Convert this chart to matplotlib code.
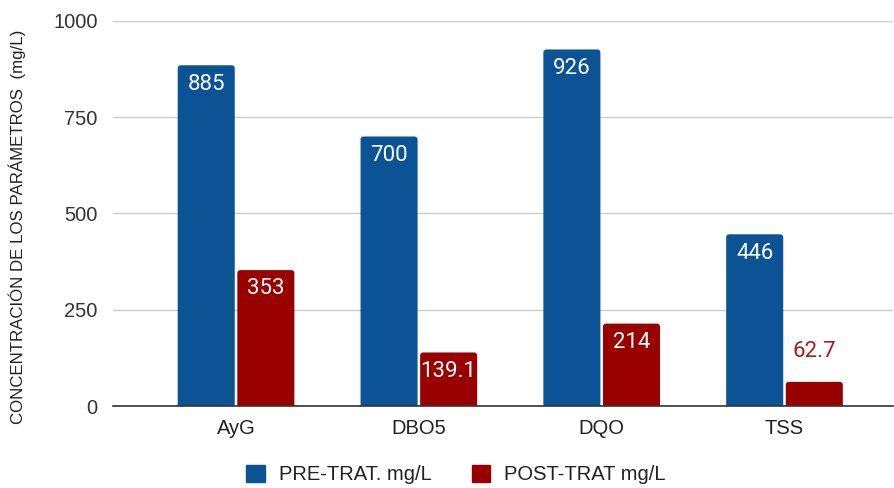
import numpy as np
import matplotlib.pyplot as plt
from matplotlib.patches import Patch, FancyBboxPatch

categories = ["AyG", "DBO5", "DQO", "TSS"]
pre_trat = [885, 700, 926, 446]
post_trat = [353, 139.1, 214, 62.7]
pre_labels = ["885", "700", "926", "446"]
post_labels = ["353", "139.1", "214", "62.7"]

blue = '#0b5394'
red = '#990000'

plt.rcParams['font.family'] = ['Liberation Sans', 'DejaVu Sans']

fig = plt.figure(figsize=(8.94, 4.88), dpi=100)
ax = fig.add_axes([0.1264, 0.168, 0.873, 0.789])

x = np.arange(len(categories))
w = 0.312
off = 0.163
xlim = (-0.673, 3.596)
ylim = (0, 1000)
ax.set_xlim(*xlim)
ax.set_ylim(*ylim)

# aspect so the corner rounding comes out round in pixels
bbox = ax.get_position()
px_w = bbox.width * fig.get_figwidth() * fig.dpi
px_h = bbox.height * fig.get_figheight() * fig.dpi
aspect = ((ylim[1] - ylim[0]) / px_h) / ((xlim[1] - xlim[0]) / px_w)
r = 3 * (xlim[1] - xlim[0]) / px_w


def rounded_bars(xs, heights, color):
    rects = []
    for xc, h in zip(xs, heights):
        p = FancyBboxPatch((xc - w / 2, -20), w, h + 20,
                           boxstyle=f"round,pad=0,rounding_size={r}",
                           mutation_aspect=aspect, facecolor=color,
                           edgecolor='none', zorder=3)
        ax.add_patch(p)
        rects.append((xc, h))
    return rects


b1 = rounded_bars(x - off, pre_trat, blue)
b2 = rounded_bars(x + off, post_trat, red)

# labels sit inside the bar top, or above it when the bar is too short
for bars, labels in ((b1, pre_labels), (b2, post_labels)):
    for (cx, h), lab in zip(bars, labels):
        if h > 100:
            ax.annotate(lab, (cx, h), xytext=(0, -6), textcoords='offset points',
                        ha='center', va='top', color='white', fontsize=16,
                        family='Roboto', zorder=4)
        else:
            ax.annotate(lab, (cx, h), xytext=(0, 14), textcoords='offset points',
                        ha='center', va='bottom', color='#a61c1c', fontsize=16,
                        family='Roboto', zorder=4)

ax.set_yticks([0, 250, 500, 750, 1000])
ax.set_xticks(x)
ax.set_xticklabels(categories)
ax.tick_params(axis='both', length=0, labelsize=14.5, colors='#222222')
ax.tick_params(axis='x', pad=9)
ax.tick_params(axis='y', pad=11)
for lab in ax.get_yticklabels():
    lab.set_color('#333333')

ax.grid(axis='y', color='#cccccc', linewidth=1, zorder=0)
for s in ['top', 'right', 'left']:
    ax.spines[s].set_visible(False)
ax.spines['bottom'].set_color('#333333')
ax.spines['bottom'].set_linewidth(1.2)
ax.spines['bottom'].set_zorder(5)

ax.set_ylabel("CONCENTRACIÓN DE LOS PARÁMETROS  (mg/L)", fontsize=12.2, color='#222222')
ax.yaxis.set_label_coords(-0.1115, 0.465)

handles = [Patch(color=blue), Patch(color=red)]
fig.legend(handles, ["PRE-TRAT. mg/L", "POST-TRAT mg/L"], loc='center',
           bbox_to_anchor=(0.51, 0.027), ncol=2, frameon=False, fontsize=14.5,
           handlelength=0.9, handleheight=0.9, handletextpad=0.7, columnspacing=2.0,
           labelcolor='#222222')

fig.savefig('out.png', dpi=100, facecolor='white')
